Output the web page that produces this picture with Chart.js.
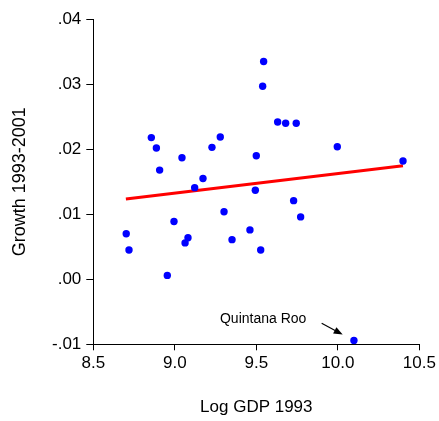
<!DOCTYPE html>
<html>
<head>
<meta charset="utf-8">
<script src="https://cdn.jsdelivr.net/npm/chart.js@4/dist/chart.umd.min.js"></script>
<style>
	body { margin: 0; background: #fff; }
	canvas { display: block; }
</style>
</head>
<body>
<canvas id="growth" width="439" height="421"></canvas>
<script>
// log GDP 1993 per state, and average growth 1993-2001
const logGdp = [8.702, 8.719, 8.856, 8.887, 8.907, 8.954, 8.995, 9.044, 9.063, 9.081,
	9.122, 9.173, 9.228, 9.279, 9.302, 9.351, 9.461, 9.494, 9.500, 9.527,
	9.539, 9.545, 9.631, 9.680, 9.729, 9.745, 9.772, 9.997, 10.099, 10.400]
const growth = [0.0070, 0.0045, 0.0218, 0.0202, 0.0168, 0.0006, 0.0089, 0.0187, 0.0056, 0.0064,
	0.0141, 0.0155, 0.0203, 0.0219, 0.0104, 0.0061, 0.0076, 0.0137, 0.0190, 0.0045,
	0.0297, 0.0335, 0.0242, 0.0240, 0.0121, 0.0240, 0.0096, 0.0204, -0.0094, 0.0182]

// fitted regression line, end points
const fitX = [8.70, 10.40]
const fitY = [0.01235, 0.01748]

const xTicks = [8.5, 9.0, 9.5, 10.0, 10.5]
const yTicks = [-0.01, 0.00, 0.01, 0.02, 0.03, 0.04]

const labelText = "Quintana Roo"

const FONT = "'Liberation Sans', Arial, sans-serif"

// text + arrow pointing at the outlier, in data units
const note = {
	textX: 9.277, textY: -0.0062,
	fromX: 9.901, fromY: -0.00677,
	toX: 10.030, toY: -0.00850
}

const notePlugin = {
	id: "note",
	afterDatasetsDraw(chart) {
		const ctx = chart.ctx
		const x = chart.scales.x
		const y = chart.scales.y
		ctx.save()
		ctx.fillStyle = "#000"
		ctx.strokeStyle = "#000"
		ctx.font = "14px " + FONT
		ctx.textBaseline = "middle"
		ctx.textAlign = "left"
		ctx.fillText(labelText, x.getPixelForValue(note.textX), y.getPixelForValue(note.textY))

		let x1 = x.getPixelForValue(note.fromX), y1 = y.getPixelForValue(note.fromY)
		let x2 = x.getPixelForValue(note.toX), y2 = y.getPixelForValue(note.toY)
		let ang = Math.atan2(y2 - y1, x2 - x1)
		ctx.lineWidth = 1.2
		ctx.beginPath()
		ctx.moveTo(x1, y1)
		ctx.lineTo(x2 - 6 * Math.cos(ang), y2 - 6 * Math.sin(ang))
		ctx.stroke()
		ctx.beginPath()
		ctx.moveTo(x2, y2)
		ctx.lineTo(x2 - 9 * Math.cos(ang) + 3.5 * Math.sin(ang), y2 - 9 * Math.sin(ang) - 3.5 * Math.cos(ang))
		ctx.lineTo(x2 - 9 * Math.cos(ang) - 3.5 * Math.sin(ang), y2 - 9 * Math.sin(ang) + 3.5 * Math.cos(ang))
		ctx.closePath()
		ctx.fill()
		ctx.restore()
	}
}

function fmtY(v) {
	let s = (Math.round(v * 100) / 100).toFixed(2)
	return s.replace("0.", ".")
}

new Chart(document.getElementById("growth").getContext("2d"), {
	type: "scatter",
	data: {
		datasets: [
			{
				label: "States",
				data: logGdp.map((v, i) => ({x: v, y: growth[i]})),
				backgroundColor: "#0000ff",
				borderWidth: 0,
				pointRadius: 3.7,
				order: 0
			},
			{
				label: "Fit",
				type: "line",
				data: fitX.map((v, i) => ({x: v, y: fitY[i]})),
				borderColor: "#ff0000",
				borderWidth: 3,
				pointRadius: 0,
				order: 1
			}
		]
	},
	options: {
		responsive: false,
		animation: false,
		devicePixelRatio: 1,
		layout: {padding: {left: 0, top: 19.3, right: 19.7, bottom: 0}},
		plugins: {legend: {display: false}, tooltip: {enabled: false}},
		scales: {
			x: {
				type: "linear",
				min: 8.5,
				max: 10.5,
				afterBuildTicks: s => { s.ticks = xTicks.map(v => ({value: v})) },
				afterFit: s => { s.height = 76.7 },
				grid: {drawOnChartArea: false, tickLength: 6, color: "#000", tickWidth: 1},
				border: {display: true, color: "#000", width: 1},
				ticks: {
					color: "#000",
					font: {family: FONT, size: 17},
					padding: 3,
					maxRotation: 0,
					callback: v => v.toFixed(1)
				},
				title: {
					display: true,
					text: "Log GDP 1993",
					color: "#000",
					font: {family: FONT, size: 17},
					padding: {top: 0, bottom: 3}
				}
			},
			y: {
				type: "linear",
				min: -0.01,
				max: 0.04,
				afterBuildTicks: s => { s.ticks = yTicks.map(v => ({value: v})) },
				afterFit: s => { s.width = 93.3 },
				grid: {drawOnChartArea: false, tickLength: 7, color: "#000", tickWidth: 1},
				border: {display: true, color: "#000", width: 1},
				ticks: {
					color: "#000",
					font: {family: FONT, size: 17},
					padding: 5,
					callback: v => fmtY(v)
				},
				title: {
					display: true,
					text: "Growth 1993-2001",
					color: "#000",
					font: {family: FONT, size: 18},
					padding: {top: 9, bottom: 0}
				}
			}
		}
	},
	plugins: [notePlugin]
})
</script>
</body>
</html>
